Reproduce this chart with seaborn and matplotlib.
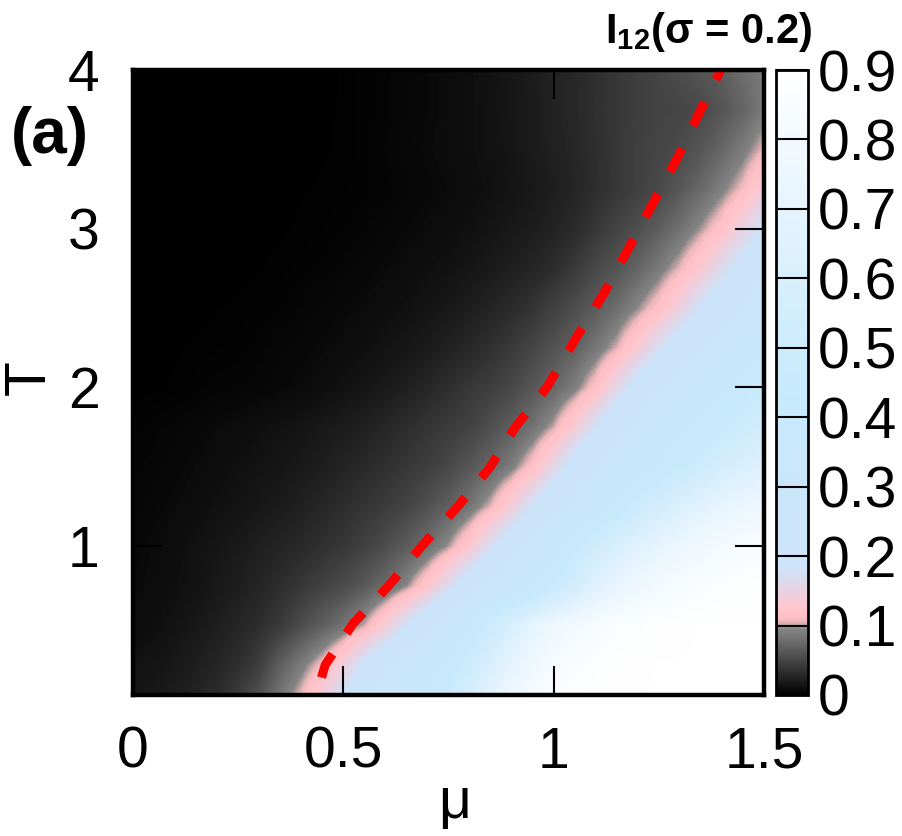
import numpy as np
import matplotlib
matplotlib.use("Agg")
import matplotlib.pyplot as plt
import seaborn as sns
from matplotlib.colors import LinearSegmentedColormap

# ---------------- data ----------------
mu_grid = [0.00, 0.05, 0.10, 0.15, 0.20, 0.25, 0.30, 0.35, 0.40, 0.45,
           0.50, 0.55, 0.60, 0.65, 0.70, 0.75, 0.80, 0.85, 0.90, 0.95,
           1.00, 1.05, 1.10, 1.15, 1.20, 1.25, 1.30, 1.35, 1.40, 1.45, 1.50]
T_grid = [0.00, 0.25, 0.50, 0.75, 1.00, 1.25, 1.50, 1.75, 2.00,
          2.25, 2.50, 2.75, 3.00, 3.25, 3.50, 3.75, 4.00]

I12_T000 = [0.016, 0.018, 0.022, 0.027, 0.034, 0.045, 0.062, 0.089, 0.113, 0.146, 0.195, 0.245, 0.300, 0.360, 0.420, 0.500, 0.620, 0.720, 0.800, 0.850, 0.880, 0.890, 0.895, 0.900, 0.900, 0.900, 0.900, 0.900, 0.900, 0.900, 0.900]
I12_T025 = [0.013, 0.015, 0.018, 0.022, 0.027, 0.034, 0.045, 0.068, 0.089, 0.111, 0.141, 0.190, 0.232, 0.280, 0.330, 0.400, 0.500, 0.600, 0.700, 0.780, 0.830, 0.860, 0.880, 0.890, 0.895, 0.900, 0.900, 0.900, 0.900, 0.900, 0.900]
I12_T050 = [0.009, 0.011, 0.014, 0.018, 0.022, 0.027, 0.033, 0.042, 0.055, 0.068, 0.082, 0.102, 0.135, 0.180, 0.225, 0.280, 0.380, 0.500, 0.600, 0.700, 0.770, 0.810, 0.840, 0.870, 0.880, 0.890, 0.895, 0.900, 0.900, 0.900, 0.900]
I12_T075 = [0.007, 0.009, 0.011, 0.014, 0.018, 0.022, 0.027, 0.033, 0.040, 0.047, 0.054, 0.064, 0.077, 0.095, 0.123, 0.165, 0.213, 0.250, 0.310, 0.380, 0.460, 0.560, 0.650, 0.720, 0.770, 0.810, 0.840, 0.860, 0.875, 0.885, 0.890]
I12_T100 = [0.006, 0.008, 0.010, 0.013, 0.016, 0.019, 0.023, 0.026, 0.030, 0.035, 0.040, 0.047, 0.055, 0.066, 0.079, 0.098, 0.127, 0.170, 0.217, 0.255, 0.330, 0.430, 0.530, 0.600, 0.660, 0.710, 0.750, 0.790, 0.820, 0.840, 0.850]
I12_T125 = [0.005, 0.006, 0.008, 0.010, 0.012, 0.014, 0.017, 0.020, 0.024, 0.028, 0.033, 0.038, 0.043, 0.049, 0.058, 0.069, 0.084, 0.105, 0.139, 0.185, 0.229, 0.260, 0.320, 0.410, 0.490, 0.560, 0.620, 0.675, 0.715, 0.745, 0.770]
I12_T150 = [0.004, 0.005, 0.006, 0.008, 0.010, 0.012, 0.014, 0.016, 0.019, 0.022, 0.026, 0.030, 0.035, 0.040, 0.045, 0.052, 0.062, 0.074, 0.090, 0.115, 0.155, 0.205, 0.245, 0.280, 0.330, 0.390, 0.450, 0.510, 0.570, 0.610, 0.650]
I12_T175 = [0.003, 0.004, 0.005, 0.006, 0.008, 0.009, 0.011, 0.013, 0.015, 0.018, 0.021, 0.024, 0.028, 0.033, 0.038, 0.043, 0.048, 0.057, 0.068, 0.082, 0.102, 0.135, 0.180, 0.225, 0.260, 0.300, 0.350, 0.400, 0.450, 0.500, 0.550]
I12_T200 = [0.001, 0.0015, 0.002, 0.003, 0.004, 0.0045, 0.005, 0.0065, 0.008, 0.010, 0.013, 0.016, 0.019, 0.023, 0.028, 0.034, 0.040, 0.045, 0.052, 0.062, 0.074, 0.090, 0.115, 0.155, 0.205, 0.245, 0.280, 0.320, 0.370, 0.420, 0.470]
I12_T225 = [0.001, 0.001, 0.0015, 0.002, 0.0025, 0.003, 0.004, 0.005, 0.006, 0.0075, 0.009, 0.011, 0.014, 0.017, 0.020, 0.024, 0.029, 0.035, 0.042, 0.050, 0.059, 0.070, 0.085, 0.104, 0.132, 0.172, 0.214, 0.245, 0.280, 0.320, 0.360]
I12_T250 = [0.0005, 0.0007, 0.001, 0.0013, 0.0017, 0.002, 0.0027, 0.0035, 0.0045, 0.0055, 0.007, 0.0085, 0.010, 0.012, 0.015, 0.018, 0.022, 0.026, 0.031, 0.038, 0.047, 0.056, 0.066, 0.079, 0.096, 0.115, 0.145, 0.185, 0.220, 0.250, 0.280]
I12_T275 = [0.0003, 0.0004, 0.0006, 0.0008, 0.001, 0.0013, 0.0017, 0.0022, 0.003, 0.0038, 0.0048, 0.006, 0.0075, 0.009, 0.011, 0.013, 0.016, 0.019, 0.023, 0.027, 0.033, 0.042, 0.052, 0.061, 0.072, 0.088, 0.106, 0.130, 0.165, 0.202, 0.235]
I12_T300 = [0.0002, 0.0003, 0.0004, 0.0005, 0.0007, 0.0009, 0.0012, 0.0015, 0.002, 0.0026, 0.0034, 0.0043, 0.0055, 0.007, 0.0085, 0.010, 0.012, 0.015, 0.018, 0.021, 0.025, 0.031, 0.040, 0.049, 0.057, 0.067, 0.081, 0.098, 0.118, 0.149, 0.189]
I12_T325 = [0.0001, 0.0002, 0.0003, 0.0004, 0.0005, 0.0007, 0.0009, 0.0012, 0.0016, 0.002, 0.0025, 0.0032, 0.004, 0.005, 0.0065, 0.008, 0.010, 0.012, 0.015, 0.018, 0.022, 0.027, 0.033, 0.040, 0.046, 0.053, 0.063, 0.075, 0.091, 0.109, 0.136]
I12_T350 = [0.0001, 0.0001, 0.0002, 0.0002, 0.0003, 0.0004, 0.0006, 0.0008, 0.001, 0.0015, 0.002, 0.003, 0.0045, 0.006, 0.0075, 0.0093, 0.011, 0.013, 0.016, 0.020, 0.024, 0.028, 0.034, 0.040, 0.046, 0.050, 0.054, 0.062, 0.074, 0.089, 0.107]
I12_T375 = [0.0001, 0.0001, 0.0001, 0.0002, 0.0002, 0.0003, 0.0005, 0.0007, 0.001, 0.0014, 0.002, 0.003, 0.004, 0.0055, 0.007, 0.0088, 0.011, 0.013, 0.017, 0.020, 0.025, 0.029, 0.035, 0.040, 0.045, 0.048, 0.050, 0.053, 0.061, 0.072, 0.088]
I12_T400 = [0.0, 0.0, 0.0001, 0.0001, 0.0002, 0.0003, 0.0004, 0.0006, 0.0009, 0.0013, 0.002, 0.003, 0.004, 0.0055, 0.007, 0.009, 0.011, 0.014, 0.017, 0.021, 0.025, 0.029, 0.034, 0.040, 0.045, 0.050, 0.055, 0.061, 0.068, 0.078, 0.088]

# red dashed boundary curve
line_mu = [0.448, 0.457, 0.523, 0.608, 0.690, 0.769, 0.847, 0.909, 0.984,
           1.053, 1.119, 1.177, 1.236, 1.295, 1.348, 1.397]
line_T = [0.17, 0.25, 0.51, 0.75, 1.01, 1.24, 1.49, 1.75, 2.00,
          2.31, 2.59, 2.87, 3.16, 3.45, 3.74, 4.00]

x_ticks = [0, 0.5, 1, 1.5]
x_ticklabels = ["0", "0.5", "1", "1.5"]
y_ticks = [1, 2, 3, 4]
y_ticklabels = ["1", "2", "3", "4"]
cb_ticks = [0, 0.1, 0.2, 0.3, 0.4, 0.5, 0.6, 0.7, 0.8, 0.9]
cb_ticklabels = ["0", "0.1", "0.2", "0.3", "0.4", "0.5", "0.6", "0.7", "0.8", "0.9"]

# ---------------- style ----------------
sns.set_style("ticks")
plt.rcParams["font.family"] = ["Liberation Sans", "DejaVu Sans"]
plt.rcParams["mathtext.fontset"] = "custom"
plt.rcParams["mathtext.rm"] = "Liberation Sans:bold"
plt.rcParams["mathtext.bf"] = "Liberation Sans:bold"
plt.rcParams["mathtext.it"] = "Liberation Sans:bold"
plt.rcParams["axes.axisbelow"] = False
for k in ["text.color", "axes.labelcolor", "xtick.color", "ytick.color",
          "axes.edgecolor"]:
    plt.rcParams[k] = "black"

VMAX = 0.9
cmap_nodes = [
    (0.000, "#000000"),
    (0.094, "#848484"),
    (0.105, "#eab6ba"),
    (0.112, "#ffc0c6"),
    (0.125, "#ffc6ce"),
    (0.150, "#e8d2e2"),
    (0.185, "#cde4fa"),
    (0.300, "#cbe6fb"),
    (0.450, "#c8eafc"),
    (0.600, "#d8effd"),
    (0.750, "#ecf7fe"),
    (0.900, "#ffffff"),
]
cmap = LinearSegmentedColormap.from_list(
    "i12", [(v / VMAX, c) for v, c in cmap_nodes], N=1024)

W, H = 902, 836
fig = plt.figure(figsize=(W / 100, H / 100), dpi=100)
ax = fig.add_axes([133 / W, 1 - 695 / H, 631 / W, 625 / H])
cax = fig.add_axes([776 / W, 1 - 695 / H, 32 / W, 625 / H])

Z = np.array([I12_T000, I12_T025, I12_T050, I12_T075, I12_T100, I12_T125,
              I12_T150, I12_T175, I12_T200, I12_T225, I12_T250, I12_T275,
              I12_T300, I12_T325, I12_T350, I12_T375, I12_T400])
dmu = mu_grid[1] - mu_grid[0]
dT = T_grid[1] - T_grid[0]
im = ax.imshow(Z, origin="lower", aspect="auto", cmap=cmap, vmin=0, vmax=VMAX,
               extent=[mu_grid[0] - dmu / 2, mu_grid[-1] + dmu / 2,
                       T_grid[0] - dT / 2, T_grid[-1] + dT / 2],
               interpolation="bilinear", interpolation_stage="data", zorder=0)

sns.lineplot(x=line_mu, y=line_T, sort=False, estimator=None, color="#ff0000",
             linewidth=6.5, ax=ax, zorder=3)
ln = ax.lines[-1]
ln.set_dashes([2.9, 2.8])
ln.set_dash_capstyle("butt")

ax.set_xlim(0, 1.5)
ax.set_ylim(0.06, 4.0)
ax.set_xticks(x_ticks)
ax.set_xticklabels(x_ticklabels)
ax.set_yticks(y_ticks)
ax.set_yticklabels(y_ticklabels)
ax.tick_params(axis="both", which="major", direction="in", length=21, width=1.5,
               color="black", labelcolor="black", labelsize=41,
               top=True, right=True)
ax.tick_params(axis="x", pad=22)
ax.tick_params(axis="y", pad=24)
ax.minorticks_off()
for s in ax.spines.values():
    s.set_linewidth(3.2)
    s.set_color("black")
    s.set_zorder(5)
ax.set_xlabel("")
ax.set_ylabel("")

cb = fig.colorbar(im, cax=cax, ticks=cb_ticks)
cb.set_ticklabels(cb_ticklabels)
cb.outline.set_linewidth(2.0)
cb.outline.set_color("black")
cb.outline.set_zorder(5)
cax.minorticks_off()
cax.tick_params(axis="y", which="major", direction="in", length=23, width=1.5,
                labelsize=41, pad=7, color="black", labelcolor="black",
                right=True, left=False)
for t in cax.yaxis.get_major_ticks():
    t.tick2line.set_zorder(4)

fig.text(455 / W, 1 - 803 / H, "μ", fontsize=41, ha="center", va="center")
fig.text(30 / W, 1 - 378 / H, "T", fontsize=41, ha="center", va="center",
         rotation=90)
fig.text(50 / W, 1 - 136 / H, "(a)", fontsize=46, fontweight="bold",
         ha="center", va="center")
fig.text(708 / W, 1 - 43 / H, r"$\mathbf{I_{12}}$(σ = 0.2)",
         fontsize=30, fontweight="bold", ha="center", va="baseline")

fig.savefig("out.png", dpi=100)
